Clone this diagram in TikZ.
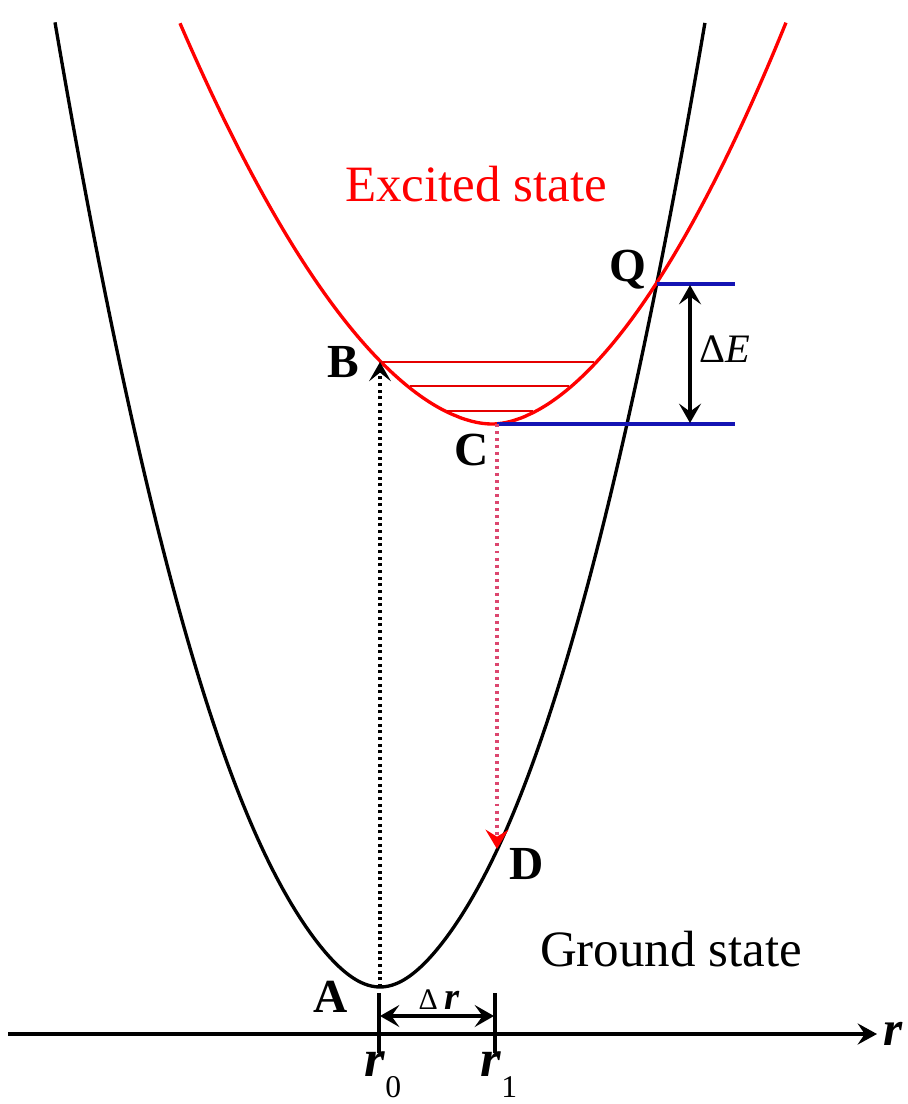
\documentclass[tikz,border=0pt]{standalone}
\usepackage{fontspec}
\setmainfont{Liberation Serif}
\usetikzlibrary{arrows.meta}
\definecolor{dotred}{RGB}{220,70,110}
\definecolor{levelblue}{RGB}{20,20,180}
\tikzstyle{ground} = [line width=1.9pt, black, line join=round]
\tikzstyle{excited} = [line width=1.9pt, red, line join=round]
\tikzstyle{level} = [line width=1.7pt, red!90!black]
\tikzstyle{bound} = [line width=1.8pt, levelblue]
\tikzstyle{jump} = [line width=1.8pt, dash pattern=on 1.7pt off 2.1pt,
-{Stealth[length=11pt, width=12.5pt, inset=5pt]}]
\tikzstyle{decay} = [line width=1.8pt, dotred, dash pattern=on 1.7pt off 2.3pt,
-{Stealth[length=11pt, width=13pt, inset=4pt, red]}]
\tikzstyle{dim} = [line width=1.8pt,
{Stealth[length=11pt, width=12.5pt, inset=4.5pt]}-{Stealth[length=11pt, width=12.5pt, inset=4.5pt]}]
\tikzstyle{axis} = [line width=1.8pt, -{Stealth[length=11pt, width=12pt, inset=4pt]}]
\tikzstyle{tick} = [line width=1.8pt]
\tikzstyle{point} = [inner sep=0pt, font=\fontsize{27}{30}\selectfont\bfseries]
\tikzstyle{state} = [inner sep=0pt, font=\fontsize{29}{32}\selectfont]
\tikzstyle{rlabel} = [inner sep=0pt, font=\fontsize{30}{32}\selectfont\bfseries\itshape]

\begin{document}
\begin{tikzpicture}[x=0.02cm, y=-0.02cm]
\useasboundingbox (0,0) rectangle (908,1104);

% potential curves (u in units of 100px from the minimum)
\draw [ground] plot [domain=-3.25:3.25, samples=161, smooth]
({380+100*\x}, {987-90*\x*\x-14*(1-exp(-(\x/0.6)*(\x/0.6)))});
\draw [excited] plot [domain=-3.12:2.94, samples=161, smooth]
({492+100*\x}, {424-(51.75*(\x<0)+57.7*(\x>=0))*((\x*\x+0.01)^0.9-0.0158)});

% vibrational levels
\draw [level] (380,362) -- (594,362);
\draw [level] (410,386) -- (569,386);
\draw [level] (447,411) -- (533,411);

% points on the curves
\coordinate (A) at (380,987);
\coordinate (B) at (380,362);
\coordinate (C) at (497,424);
\coordinate (D) at (497,849);
\coordinate (Q) at (657,284);
\coordinate (Qend) at (735,284);
\coordinate (Cend) at (735,424);

\draw [bound] (Q) -- (Qend);
\draw [bound] (C) -- (Cend);
\draw [jump] (A) -- (B);
\draw [decay] (C) -- (D);

\coordinate (dEtop) at (690,285);
\coordinate (dEbot) at (690,423);
\draw [dim] (dEtop) -- (dEbot);

% axis
\coordinate (axL) at (8,1034);
\coordinate (axR) at (877,1034);
\draw [axis] (axL) -- (axR);
\coordinate (t0top) at (379,993);
\coordinate (t0bot) at (379,1053);
\coordinate (t1top) at (495,993);
\coordinate (t1bot) at (495,1053);
\draw [tick] (t0top) -- (t0bot);
\draw [tick] (t1top) -- (t1bot);
\coordinate (dr0) at (380,1016);
\coordinate (dr1) at (494,1016);
\draw [dim] (dr0) -- (dr1);

% labels
\node (labA) [point] at (331,997) {A};
\node (labB) [point] at (343,362) {B};
\node (labC) [point] at (472,450) {C};
\node (labD) [point] at (527,864) {D};
\node (labQ) [point] at (628,270) {Q};
\node (excited) [state, red] at (476,184) {Excited state};
\node (ground) [state] at (671,949) {Ground state};
\node (dE) [inner sep=0pt, font=\fontsize{23}{26}\selectfont] at (725,349) {Δ\textit{E}};
\node (dr) [inner sep=0pt, font=\fontsize{22}{24}\selectfont] at (439,1000)
{{\fontsize{17}{18}\selectfont Δ}\,\textbf{\textit{r}}};
\node (r0) [rlabel] at (383,1075)
{r\raisebox{-0.4em}{\fontsize{18}{18}\selectfont\mdseries\upshape 0}};
\node (r1) [rlabel] at (499,1075)
{r\raisebox{-0.4em}{\fontsize{18}{18}\selectfont\mdseries\upshape 1}};
\node (raxis) [rlabel, font=\fontsize{28}{30}\selectfont\bfseries\itshape] at (893,1034) {r};

\end{tikzpicture}
\end{document}
